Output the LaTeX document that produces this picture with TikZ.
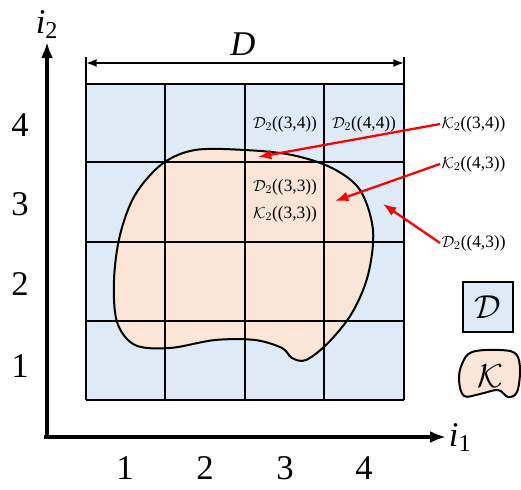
\documentclass[tikz,border=0pt]{standalone}
\usepackage{fontspec}
\setmainfont{Liberation Serif}
\usetikzlibrary{arrows.meta}
\definecolor{dblue}{HTML}{DEEBF7}
\definecolor{korange}{HTML}{FBE5D6}
\begin{document}
\begin{tikzpicture}[x=0.75pt,y=-0.75pt,
  gridline/.style={line width=1.4pt,black},
  axis/.style={line width=2.4pt,-{Latex[length=12pt,width=9pt]}},
  bigtxt/.style={font=\fontsize{26}{30}\selectfont},
  small/.style={font=\fontsize{13}{15}\selectfont, inner sep=1pt},
  redarr/.style={red,line width=1.7pt,-{Latex[length=10pt,width=7.5pt]}},
  blob/.style={fill=korange,draw=black,line width=1.5pt}]
\useasboundingbox (0,0) rectangle (521,489);
% domain
\fill[dblue] (86,84) rectangle (404,400);
% main blob
\draw[blob] plot[smooth cycle, tension=0.55] coordinates {
 (195,150) (245,150) (292,155) (332,168) (360,190) (373,230) (368,275)
 (352,313) (328,343) (306,360) (292,358) (282,348) (255,340) (215,340)
 (170,348) (135,345) (117,322) (114,280) (120,235) (135,195) (162,164)};
% grid
\foreach \x in {86,165,245,324,404} \draw[gridline] (\x,84) -- (\x,400);
\foreach \y in {84,162,242,321,400} \draw[gridline] (86,\y) -- (404,\y);
% axes
\coordinate (O) at (47,437);
\coordinate (ytip) at (47,42);
\coordinate (xtip) at (446,437);
\draw[axis] (O) -- (ytip);
\draw[axis] (44,437) -- (xtip);
\node[bigtxt,anchor=south,inner sep=1pt] (i2) at (47,40) {\textit{i}\textsubscript{2}};
\node[bigtxt,anchor=west,inner sep=2pt] (i1) at (446,438) {\textit{i}\textsubscript{1}};
% tick labels
\node[bigtxt] (y4) at (20,125) {4};
\node[bigtxt] (y3) at (20,204) {3};
\node[bigtxt] (y2) at (20,284) {2};
\node[bigtxt] (y1) at (20,366) {1};
\node[bigtxt] (x1) at (125,468) {1};
\node[bigtxt] (x2) at (205,468) {2};
\node[bigtxt] (x3) at (285,468) {3};
\node[bigtxt] (x4) at (364,468) {4};
% dimension D
\coordinate (dl) at (86,63);
\coordinate (dr) at (404,63);
\draw[line width=1.3pt] (86,57) -- (86,84);
\draw[line width=1.3pt] (404,57) -- (404,84);
\draw[line width=1.3pt,{Latex[length=8pt,width=6pt]}-{Latex[length=8pt,width=6pt]}] (dl) -- (dr);
\node[bigtxt] (Dlab) at (243,44) {\textit{D}};
% cell labels
\node[small] (d34) at (285,124) {$\mathcal{D}_2$((3,4))};
\node[small] (d44) at (364,124) {$\mathcal{D}_2$((4,4))};
\node[small] (d33) at (285,187) {$\mathcal{D}_2$((3,3))};
\node[small] (k33) at (285,214) {$\mathcal{K}_2$((3,3))};
% outside labels
\node[small,anchor=west] (k34) at (440,124) {$\mathcal{K}_2$((3,4))};
\node[small,anchor=west] (k43) at (440,164) {$\mathcal{K}_2$((4,3))};
\node[small,anchor=west] (d43) at (440,243) {$\mathcal{D}_2$((4,3))};
\coordinate (t1) at (258,157);
\coordinate (t2) at (335,201);
\coordinate (t3) at (383,204);
\draw[redarr] (k34.west) -- (t1);
\draw[redarr] (k43.west) -- (t2);
\draw[redarr] (d43.west) -- (t3);
% legend
\node[draw=black,line width=1.4pt,fill=dblue,inner sep=0pt,minimum width=37.5pt,minimum height=37.5pt,font=\fontsize{24}{28}\selectfont] (legD) at (488,307) {$\mathcal{D}$};
\draw[blob] plot[smooth cycle, tension=0.6] coordinates {
 (472,352) (500,350) (516,354) (520,370) (517,392) (508,397) (498,390)
 (480,394) (464,396) (459,380) (462,364)};
\node[font=\fontsize{24}{28}\selectfont] (legK) at (490,376) {$\mathcal{K}$};
\end{tikzpicture}
\end{document}
